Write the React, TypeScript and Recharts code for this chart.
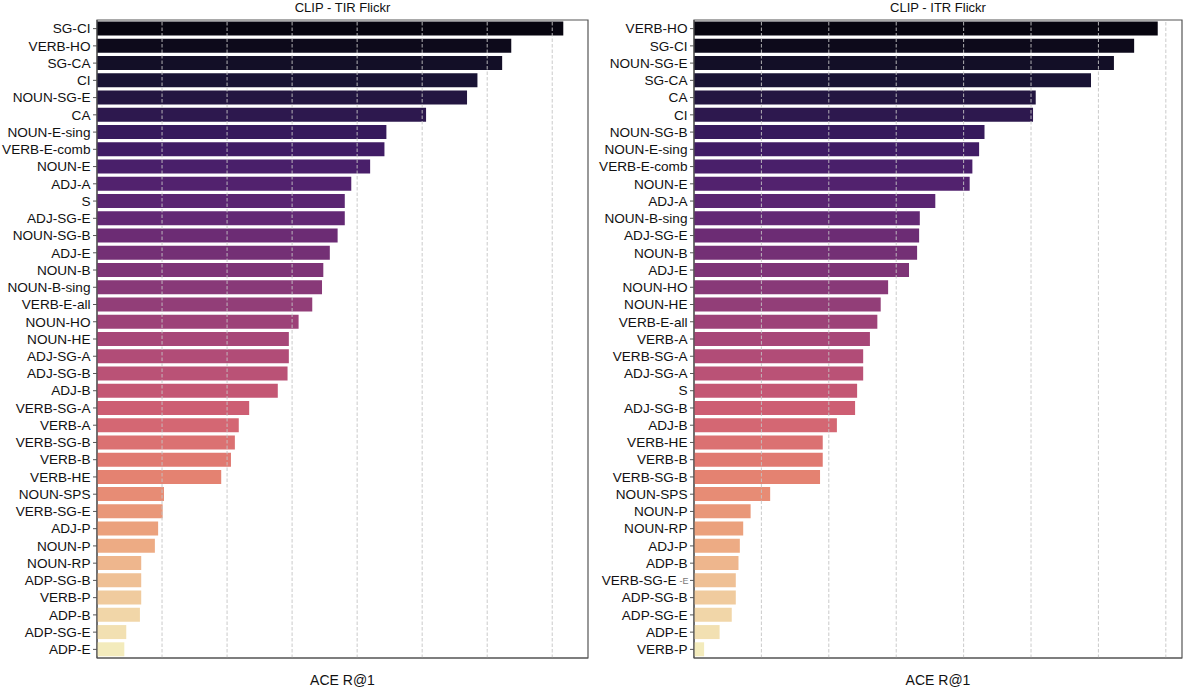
import React from 'react';
import {
  BarChart,
  Bar,
  XAxis,
  YAxis,
  Cell,
  ReferenceLine,
  ReferenceArea,
  Label,
} from 'recharts';

// Left panel: CLIP - TIR Flickr (x in grid-step units, ticks unlabelled)
const tirCategories = [
  'SG-CI', 'VERB-HO', 'SG-CA', 'CI', 'NOUN-SG-E', 'CA', 'NOUN-E-sing', 'VERB-E-comb',
  'NOUN-E', 'ADJ-A', 'S', 'ADJ-SG-E', 'NOUN-SG-B', 'ADJ-E', 'NOUN-B', 'NOUN-B-sing',
  'VERB-E-all', 'NOUN-HO', 'NOUN-HE', 'ADJ-SG-A', 'ADJ-SG-B', 'ADJ-B', 'VERB-SG-A',
  'VERB-A', 'VERB-SG-B', 'VERB-B', 'VERB-HE', 'NOUN-SPS', 'VERB-SG-E', 'ADJ-P',
  'NOUN-P', 'NOUN-RP', 'ADP-SG-B', 'VERB-P', 'ADP-B', 'ADP-SG-E', 'ADP-E',
];
const tirValues = [
  7.17, 6.37, 6.23, 5.85, 5.69, 5.06, 4.45, 4.42,
  4.20, 3.91, 3.81, 3.81, 3.70, 3.58, 3.48, 3.46,
  3.31, 3.10, 2.95, 2.95, 2.93, 2.78, 2.34,
  2.18, 2.12, 2.06, 1.91, 1.03, 1.01, 0.94,
  0.89, 0.68, 0.68, 0.68, 0.66, 0.45, 0.42,
];

// Right panel: CLIP - ITR Flickr
const itrCategories = [
  'VERB-HO', 'SG-CI', 'NOUN-SG-E', 'SG-CA', 'CA', 'CI', 'NOUN-SG-B', 'NOUN-E-sing',
  'VERB-E-comb', 'NOUN-E', 'ADJ-A', 'NOUN-B-sing', 'ADJ-SG-E', 'NOUN-B', 'ADJ-E',
  'NOUN-HO', 'NOUN-HE', 'VERB-E-all', 'VERB-A', 'VERB-SG-A', 'ADJ-SG-A', 'S',
  'ADJ-SG-B', 'ADJ-B', 'VERB-HE', 'VERB-B', 'VERB-SG-B', 'NOUN-SPS', 'NOUN-P',
  'NOUN-RP', 'ADJ-P', 'ADP-B', 'VERB-SG-E', 'ADP-SG-B', 'ADP-SG-E', 'ADP-E', 'VERB-P',
];
const itrValues = [
  6.88, 6.53, 6.23, 5.89, 5.07, 5.03, 4.31, 4.23,
  4.13, 4.09, 3.58, 3.35, 3.34, 3.31, 3.19,
  2.88, 2.77, 2.72, 2.61, 2.51, 2.51, 2.42,
  2.39, 2.12, 1.91, 1.91, 1.87, 1.13, 0.84,
  0.73, 0.68, 0.66, 0.62, 0.62, 0.56, 0.38, 0.15,
];

const gridTicks = [0, 1, 2, 3, 4, 5, 6, 7];

// matplotlib magma, sampled every 0.1
const magmaStops = [
  '#000004', '#140e36', '#3b0f70', '#641a80', '#8c2981', '#b73779',
  '#de4968', '#f7705c', '#fe9f6d', '#fecf92', '#fcfdbf',
];

const hexToRgb = (h: string) => [1, 3, 5].map(i => parseInt(h.slice(i, i + 2), 16) / 255);

const magma = (t: number) => {
  const p = t * (magmaStops.length - 1);
  const i = Math.min(Math.floor(p), magmaStops.length - 2);
  const f = p - i;
  const a = hexToRgb(magmaStops[i]);
  const b = hexToRgb(magmaStops[i + 1]);
  return a.map((v, k) => v + (b[k] - v) * f);
};

// seaborn barplot desaturates its palette (saturation=0.75)
const desaturate = ([r, g, b]: number[], amt: number) => {
  const max = Math.max(r, g, b);
  const min = Math.min(r, g, b);
  const l = (max + min) / 2;
  if (max === min) return [r, g, b];
  const d = max - min;
  let s = l > 0.5 ? d / (2 - max - min) : d / (max + min);
  let h = 0;
  if (max === r) h = ((g - b) / d + (g < b ? 6 : 0)) / 6;
  else if (max === g) h = ((b - r) / d + 2) / 6;
  else h = ((r - g) / d + 4) / 6;
  s *= amt;
  const q = l < 0.5 ? l * (1 + s) : l + s - l * s;
  const pp = 2 * l - q;
  const hue = (t: number) => {
    if (t < 0) t += 1;
    if (t > 1) t -= 1;
    if (t < 1 / 6) return pp + (q - pp) * 6 * t;
    if (t < 1 / 2) return q;
    if (t < 2 / 3) return pp + (q - pp) * (2 / 3 - t) * 6;
    return pp;
  };
  return [hue(h + 1 / 3), hue(h), hue(h - 1 / 3)];
};

const toHex = (c: number[]) =>
  '#' + c.map(v => Math.round(v * 255).toString(16).padStart(2, '0')).join('');

const palette = (n: number) =>
  Array.from({ length: n }, (_, i) => toHex(desaturate(magma((i + 1) / (n + 1)), 0.75)));

const FONT = '"Liberation Sans", Arial, sans-serif';
const SPINE = '#555555';

const CategoryTick = (props: any) => {
  const { x, y, payload, ghost } = props;
  const isGhost = ghost && payload.value === ghost;
  return (
    <g>
      <text
        x={isGhost ? x - 11 : x}
        y={y}
        dy="0.35em"
        textAnchor="end"
        fontSize={13.6}
        fontFamily={FONT}
        fill="#111111"
      >
        {payload.value}
      </text>
      {isGhost && (
        <text x={x + 1} y={y} dy="0.4em" textAnchor="end" fontSize={9} fontFamily={FONT} fill="#777">
          -E
        </text>
      )}
    </g>
  );
};

interface PanelProps {
  title: string;
  categories: string[];
  values: number[];
  left: number;
  width: number;
  marginRight: number;
  max: number;
  ghost?: string;
}

const Panel: React.FC<PanelProps> = ({
  title,
  categories,
  values,
  left,
  width,
  marginRight,
  max,
  ghost,
}) => {
  const data = categories.map((name, i) => ({ name, value: values[i] }));
  const colors = palette(categories.length);
  const axisWidth = 97;
  return (
    <div style={{ position: 'absolute', left, top: 0, width, height: 691 }}>
      <div
        style={{
          position: 'absolute',
          left: axisWidth,
          width: width - axisWidth - marginRight,
          top: 0,
          textAlign: 'center',
          fontFamily: FONT,
          fontSize: 13,
          lineHeight: '15px',
          color: '#111111',
        }}
      >
        {title}
      </div>
      <BarChart
        width={width}
        height={691}
        data={data}
        layout="vertical"
        barCategoryGap="9%"
        margin={{ top: 20, right: marginRight, bottom: 0, left: 0 }}
      >
        <XAxis
          type="number"
          domain={[0, max]}
          ticks={gridTicks}
          allowDataOverflow
          tick={false}
          tickSize={4}
          tickLine={{ stroke: SPINE }}
          axisLine={{ stroke: SPINE, strokeWidth: 1.2 }}
          height={33}
        >
          <Label
            value="ACE R@1"
            position="insideBottom"
            offset={6}
            fill="#111111"
            fontSize={14}
            fontFamily={FONT}
          />
        </XAxis>
        <YAxis
          type="category"
          dataKey="name"
          width={axisWidth}
          interval={0}
          tickSize={4}
          tickMargin={2.5}
          tickLine={{ stroke: SPINE }}
          axisLine={{ stroke: SPINE, strokeWidth: 1.2 }}
          tick={<CategoryTick ghost={ghost} />}
        />
        <Bar dataKey="value" isAnimationActive={false}>
          {data.map((d, i) => (
            <Cell key={`cell-${d.name}`} fill={colors[i]} />
          ))}
        </Bar>
        {gridTicks.slice(1).map(t => (
          <ReferenceLine
            key={`grid-${t}`}
            x={t}
            stroke="#c4c4c4"
            strokeDasharray="3.5 2"
            strokeWidth={0.9}
          />
        ))}
        <ReferenceArea x1={0} x2={max} fill="none" stroke={SPINE} strokeWidth={1.2} />
      </BarChart>
    </div>
  );
};

export default function App() {
  return (
    <div
      style={{
        position: 'absolute',
        left: 0,
        top: 0,
        width: 1185,
        height: 691,
        background: '#ffffff',
        overflow: 'hidden',
      }}
    >
      <Panel
        title="CLIP - TIR Flickr"
        categories={tirCategories}
        values={tirValues}
        left={0}
        width={595}
        marginRight={7}
        max={7.55}
      />
      <Panel
        title="CLIP - ITR Flickr"
        categories={itrCategories}
        values={itrValues}
        left={597}
        width={588}
        marginRight={3}
        max={7.24}
        ghost="VERB-SG-E"
      />
    </div>
  );
}
